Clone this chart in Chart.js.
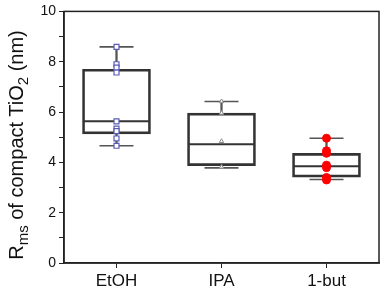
<!DOCTYPE html>
<html>
<head>
<meta charset="utf-8">
<script src="https://cdn.jsdelivr.net/npm/chart.js@4.4.0/dist/chart.umd.min.js"></script>
<style>
    html, body { margin: 0; padding: 0; background: #fff; }
    .wrap { position: relative; width: 387px; height: 293px; }
    .ytitle {
        position: absolute;
        left: -104px; top: 130px;
        width: 240px; height: 30px;
        line-height: 30px;
        text-align: center;
        white-space: nowrap;
        font-family: "Liberation Sans", Arial, sans-serif;
        font-size: 20px;
        color: #111;
        transform: rotate(-90deg);
    }
    .ytitle sub { font-size: 15px; vertical-align: -5px; line-height: 0; }
</style>
</head>
<body>
<div class="wrap">
    <canvas id="boxChart"></canvas>
    <div class="ytitle">R<sub>ms</sub> of compact TiO<sub>2</sub> (nm)</div>
</div>
<script>
// categories and box statistics
const categories = ['EtOH', 'IPA', '1-but'];
const whiskLow = [4.66, 3.78, 3.32];
const boxLow = [5.13, 3.87, 3.41];
const medians = [5.63, 4.72, 3.85];
const boxHigh = [7.70, 5.96, 4.36];
const whiskHigh = [8.59, 6.42, 4.96];

// raw points
const etohPts = [8.59, 7.90, 7.77, 7.57, 5.63, 5.34, 5.24, 4.95, 4.66];
const ipaPts = [6.42, 5.96, 4.84, 3.82];
const butPts = [4.96, 4.46, 4.36, 3.89, 3.79, 3.40, 3.30];

const yTicks = [0, 2, 4, 6, 8, 10];

const boxColor = '#333';
const whiskColor = '#555';

function pts(cat, vals) {
    return vals.map(v => ({ x: cat, y: v }));
}

// line controller whose wide 'line' markers don't push the chart area in
class MarkController extends Chart.LineController {
    getMaxOverflow() { return 0; }
}
MarkController.id = 'mark';
MarkController.defaults = Chart.LineController.defaults;
Chart.register(MarkController);

// frame round the plot area
const framePlugin = {
    id: 'frame',
    afterDatasetsDraw(chart) {
        const a = chart.chartArea;
        const ctx = chart.ctx;
        ctx.save();
        ctx.strokeStyle = '#222';
        ctx.lineWidth = 1.5;
        ctx.strokeRect(a.left, a.top, a.right - a.left, a.bottom - a.top);
        ctx.restore();
    }
};

const ctx = document.getElementById('boxChart');

new Chart(ctx, {
    type: 'bar',
    data: {
        labels: categories,
        datasets: [
            {
                type: 'mark',
                label: 'EtOH',
                data: pts('EtOH', etohPts),
                showLine: false,
                pointStyle: 'rect',
                pointRadius: 3.5,
                pointBackgroundColor: '#fff',
                pointBorderColor: '#5a5ab8',
                pointBorderWidth: 1.2,
                order: 0
            },
            {
                type: 'mark',
                label: 'IPA',
                data: pts('IPA', ipaPts),
                showLine: false,
                pointStyle: 'triangle',
                pointRadius: 2.5,
                pointBackgroundColor: '#fff',
                pointBorderColor: '#888',
                pointBorderWidth: 1,
                order: 0
            },
            {
                type: 'mark',
                label: '1-but',
                data: pts('1-but', butPts),
                showLine: false,
                pointStyle: 'circle',
                pointRadius: 4,
                pointBackgroundColor: '#f00',
                pointBorderColor: '#f00',
                pointBorderWidth: 1,
                order: 0
            },
            {
                type: 'mark',
                label: 'median',
                data: categories.map((c, i) => ({ x: c, y: medians[i] })),
                showLine: false,
                pointStyle: 'line',
                pointRadius: 33,
                pointBorderColor: boxColor,
                pointBorderWidth: 2,
                order: 2
            },
            {
                type: 'mark',
                label: 'caps',
                data: categories.map((c, i) => ({ x: c, y: whiskLow[i] }))
                    .concat(categories.map((c, i) => ({ x: c, y: whiskHigh[i] }))),
                showLine: false,
                pointStyle: 'line',
                pointRadius: 17,
                pointBorderColor: whiskColor,
                pointBorderWidth: 1.6,
                order: 3
            },
            {
                label: 'box',
                data: categories.map((c, i) => [boxLow[i], boxHigh[i]]),
                backgroundColor: 'rgba(0,0,0,0)',
                borderColor: boxColor,
                borderWidth: 2,
                borderSkipped: false,
                barThickness: 68,
                grouped: false,
                order: 4
            },
            {
                label: 'upper whisker',
                data: categories.map((c, i) => [boxHigh[i], whiskHigh[i]]),
                backgroundColor: whiskColor,
                borderWidth: 0,
                barThickness: 1.6,
                grouped: false,
                order: 5
            },
            {
                label: 'lower whisker',
                data: categories.map((c, i) => [whiskLow[i], boxLow[i]]),
                backgroundColor: whiskColor,
                borderWidth: 0,
                barThickness: 1.6,
                grouped: false,
                order: 5
            }
        ]
    },
    options: {
        responsive: true,
        maintainAspectRatio: false,
        animation: false,
        layout: { padding: { top: 9, right: 8, left: 0, bottom: 0 } },
        plugins: {
            legend: { display: false },
            tooltip: { enabled: false }
        },
        scales: {
            x: {
                type: 'category',
                offset: true,
                border: { color: '#222', width: 1.5 },
                grid: {
                    offset: false,
                    drawOnChartArea: false,
                    drawTicks: true,
                    tickLength: 5,
                    color: '#222'
                },
                ticks: {
                    color: '#111',
                    padding: 3,
                    font: { family: 'Liberation Sans', size: 17 }
                },
                afterFit(scale) { scale.height = 30; }
            },
            y: {
                min: 0,
                max: 10,
                border: { color: '#222', width: 1.5 },
                grid: {
                    drawOnChartArea: false,
                    drawTicks: true,
                    tickLength: 5,
                    color: '#222'
                },
                ticks: {
                    stepSize: 1,
                    color: '#111',
                    padding: 3,
                    font: { family: 'Liberation Sans', size: 14 },
                    callback: function(value) {
                        return yTicks.includes(value) ? String(value) : '';
                    }
                },
                afterFit(scale) { scale.width = 64; }
            }
        }
    },
    plugins: [framePlugin]
});
</script>
</body>
</html>
